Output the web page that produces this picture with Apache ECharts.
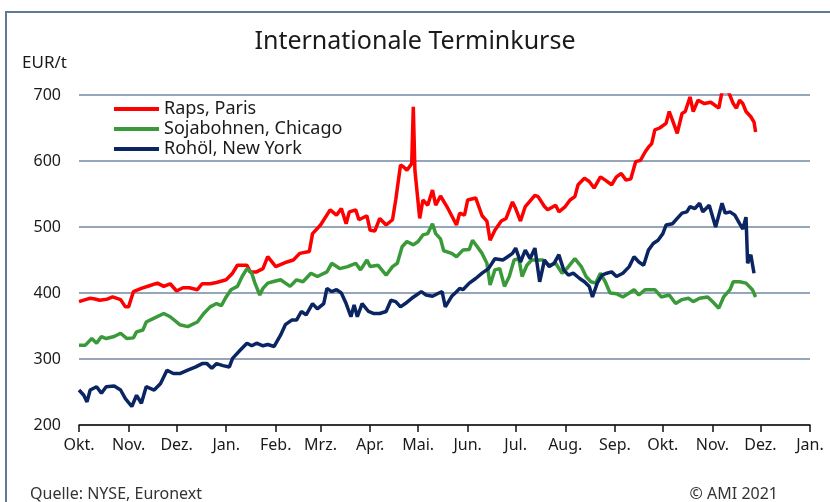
<!DOCTYPE html>
<html>
<head>
<meta charset="utf-8">
<script src="https://cdn.jsdelivr.net/npm/echarts@6/dist/echarts.min.js"></script>
<style>
  html, body { margin: 0; padding: 0; background: #fff; }
  #chart { width: 830px; height: 502px; }
</style>
</head>
<body>
<div id="chart"></div>
<script>
  // month labels (German)
  var monthNames = ['Jan.', 'Feb.', 'Mrz.', 'Apr.', 'Mai.', 'Jun.', 'Jul.', 'Aug.', 'Sep.', 'Okt.', 'Nov.', 'Dez.']
  var yTicks = [200, 300, 400, 500, 600, 700]

  // days since 1 Oct 2020, values in EUR/t
  var rapsDays = [
    0, 4, 7, 10, 13, 16, 18, 21, 26, 29,
    31, 34, 39, 44, 49, 53, 57, 61, 65, 69,
    74, 77, 82, 86, 92, 96, 99, 105, 107, 111,
    115, 118, 123, 130, 134, 138, 144, 146, 151, 157,
    161, 164, 167, 169, 173, 175, 180, 182, 185, 188,
    192, 196, 198, 201, 203, 205, 208, 209, 210, 213,
    215, 218, 221, 223, 226, 230, 236, 238, 241, 243,
    248, 252, 255, 257, 260, 264, 267, 271, 273, 276,
    279, 285, 287, 291, 293, 298, 300, 304, 307, 310,
    312, 316, 319, 322, 326, 329, 333, 336, 339, 342,
    345, 348, 351, 354, 356, 358, 360, 363, 367, 369,
    371, 374, 377, 379, 382, 384, 387, 391, 395, 400,
    402, 406, 409, 411, 413, 415, 417, 420, 422, 423
  ]
  var rapsVals = [
    387, 390, 392, 391, 389, 390, 391, 394, 390, 379,
    379, 402, 407, 411, 415, 410, 414, 403, 408, 408,
    405, 414, 414, 416, 420, 430, 442, 442, 432, 432,
    437, 455, 440, 447, 450, 460, 463, 490, 503, 526,
    518, 528, 505, 523, 526, 511, 517, 495, 494, 513,
    503, 511, 541, 594, 591, 586, 596, 682, 586, 513,
    541, 533, 556, 533, 547, 531, 503, 521, 518, 541,
    544, 517, 509, 480, 495, 509, 513, 538, 528, 509,
    531, 548, 546, 531, 526, 533, 523, 531, 541, 546,
    564, 574, 569, 559, 576, 571, 564, 576, 581, 571,
    573, 599, 601, 614, 621, 626, 647, 650, 657, 675,
    662, 642, 672, 675, 697, 675, 692, 687, 689, 680,
    705, 705, 687, 680, 692, 687, 675, 667, 659, 644
  ]

  var sojaDays = [
    0, 4, 8, 11, 14, 17, 22, 26, 30, 34,
    36, 40, 42, 47, 53, 57, 63, 68, 74, 78,
    82, 86, 89, 92, 95, 99, 102, 105, 108, 110,
    113, 115, 118, 121, 126, 132, 136, 140, 145, 149,
    155, 158, 163, 168, 173, 176, 180, 182, 187, 192,
    196, 199, 202, 205, 209, 212, 215, 218, 221, 223,
    226, 228, 233, 236, 240, 244, 246, 249, 252, 255,
    257, 260, 263, 266, 269, 272, 275, 277, 280, 283,
    290, 294, 298, 302, 305, 310, 314, 317, 320, 323,
    326, 329, 332, 336, 340, 344, 347, 350, 354, 360,
    364, 369, 373, 377, 381, 384, 388, 393, 396, 400,
    403, 407, 409, 413, 417, 421, 423
  ]
  var sojaVals = [
    321, 321, 331, 324, 334, 331, 334, 339, 331, 332,
    341, 344, 356, 362, 369, 364, 352, 349, 356, 369,
    379, 384, 381, 394, 405, 410, 425, 437, 430, 415,
    397, 407, 415, 417, 420, 410, 420, 417, 430, 425,
    432, 445, 437, 440, 445, 435, 450, 440, 442, 427,
    440, 445, 470, 478, 473, 478, 488, 490, 505, 490,
    482, 464, 460, 455, 465, 466, 480, 470, 460, 445,
    412, 435, 437, 410, 425, 450, 452, 425, 442, 450,
    450, 442, 445, 430, 437, 452, 440, 425, 417, 415,
    430, 417, 400, 399, 394, 400, 405, 397, 405, 405,
    394, 397, 384, 390, 392, 387, 392, 394, 387, 377,
    394, 405, 417, 417, 415, 405, 394
  ]

  var oelDays = [
    0, 3, 5, 7, 11, 14, 17, 22, 26, 29,
    33, 36, 39, 42, 47, 51, 55, 59, 63, 68,
    73, 77, 80, 83, 86, 90, 94, 96, 101, 105,
    108, 111, 115, 118, 122, 126, 129, 133, 136, 139,
    142, 146, 149, 153, 155, 158, 161, 164, 167, 170,
    172, 174, 177, 181, 184, 188, 192, 195, 198, 201,
    204, 208, 211, 214, 217, 221, 225, 227, 229, 233,
    236, 238, 240, 244, 248, 252, 256, 260, 265, 268,
    271, 273, 276, 279, 282, 285, 288, 291, 294, 297,
    300, 303, 306, 309, 313, 316, 319, 321, 324, 327,
    330, 333, 336, 340, 344, 347, 350, 353, 356, 359,
    362, 365, 367, 371, 374, 377, 380, 382, 385, 388,
    390, 394, 398, 400, 402, 404, 407, 410, 413, 415,
    417, 418, 420, 422
  ]
  var oelVals = [
    253, 245, 235, 253, 258, 248, 258, 259, 253, 240,
    228, 245, 233, 258, 253, 263, 283, 278, 278, 283,
    288, 293, 293, 286, 293, 290, 288, 301, 314, 324,
    320, 324, 320, 322, 319, 336, 352, 359, 359, 372,
    367, 384, 376, 384, 407, 402, 405, 400, 384, 364,
    382, 364, 384, 372, 369, 369, 372, 389, 387, 379,
    384, 392, 397, 402, 397, 395, 400, 402, 379, 395,
    402, 407, 405, 415, 422, 430, 437, 452, 450, 455,
    460, 468, 447, 465, 452, 468, 417, 450, 440, 445,
    458, 435, 427, 430, 422, 417, 410, 394, 415, 427,
    430, 432, 425, 430, 440, 455, 447, 442, 465, 475,
    480, 490, 503, 505, 513, 521, 523, 531, 528, 536,
    523, 533, 500, 518, 536, 521, 523, 518, 505, 497,
    515, 445, 458, 430
  ]

  var fontFam = '"Noto Sans", "Open Sans", sans-serif'

  function toTime(d) {
    return new Date(2020, 9, 1 + d).getTime()
  }
  function pairs(days, vals) {
    return days.map(function (d, i) { return [toTime(d), vals[i]] })
  }

  var chart = echarts.init(document.getElementById('chart'))
  var option = {
    animation: false,
    title: {
      text: 'Internationale Terminkurse',
      left: 'center',
      top: 24,
      textStyle: { fontFamily: fontFam, fontSize: 25, fontWeight: 'normal', color: '#1a1a1a' }
    },
    graphic: [
      {
        type: 'rect',
        shape: { x: 6, y: 12, width: 860, height: 520 },
        style: { fill: 'none', stroke: '#5f7a98', lineWidth: 2 },
        silent: true
      },
      {
        type: 'text',
        left: 22, top: 55,
        style: { text: 'EUR/t', fontFamily: fontFam, fontSize: 17, fill: '#1a1a1a' }
      },
      {
        type: 'text',
        left: 30, top: 486,
        style: { text: 'Quelle: NYSE, Euronext', fontFamily: fontFam, fontSize: 16, fill: '#333' }
      },
      {
        type: 'text',
        right: 52, top: 486,
        style: { text: '\u00a9 AMI 2021', fontFamily: fontFam, fontSize: 16, fill: '#333' }
      }
    ],
    legend: {
      orient: 'vertical',
      left: 109,
      top: 95,
      itemGap: 2,
      itemWidth: 45,
      itemHeight: 4,
      icon: 'rect',
      textStyle: { fontFamily: fontFam, fontSize: 18, color: '#1a1a1a' },
      data: ['Raps, Paris', 'Sojabohnen, Chicago', 'Rohöl, New York']
    },
    grid: { left: 79, right: 20, top: 95, bottom: 77 },
    xAxis: {
      type: 'time',
      min: toTime(0),
      max: new Date(2022, 0, 1).getTime(),
      splitNumber: 15,
      minInterval: 28 * 86400000,
      maxInterval: 31 * 86400000,
      axisLine: { onZero: false, lineStyle: { color: '#111', width: 1.5 } },
      axisTick: { show: true, length: 7, lineStyle: { color: '#111', width: 1.5 } },
      minorTick: { show: false },
      splitLine: { show: false },
      axisLabel: {
        interval: 0,
        hideOverlap: false,
        showMinLabel: true,
        showMaxLabel: true,
        margin: 12,
        fontFamily: fontFam,
        fontSize: 16,
        color: '#1a1a1a',
        formatter: function (val) {
          return monthNames[new Date(val).getMonth()]
        }
      }
    },
    yAxis: {
      type: 'value',
      min: yTicks[0],
      max: yTicks[yTicks.length - 1],
      interval: 100,
      axisLine: { show: false },
      axisTick: { show: false },
      splitLine: { lineStyle: { color: '#7389a3', width: 1.5 } },
      axisLabel: { margin: 18, fontFamily: fontFam, fontSize: 16, color: '#1a1a1a' }
    },
    series: [
      {
        name: 'Raps, Paris', type: 'line', symbol: 'none',
        data: pairs(rapsDays, rapsVals),
        itemStyle: { color: '#ff0000' },
        lineStyle: { color: '#ff0000', width: 3.5 }
      },
      {
        name: 'Sojabohnen, Chicago', type: 'line', symbol: 'none',
        data: pairs(sojaDays, sojaVals),
        itemStyle: { color: '#3a9a3a' },
        lineStyle: { color: '#3a9a3a', width: 3.5 }
      },
      {
        name: 'Rohöl, New York', type: 'line', symbol: 'none',
        data: pairs(oelDays, oelVals),
        itemStyle: { color: '#0b2562' },
        lineStyle: { color: '#0b2562', width: 3.5 }
      }
    ]
  }
  chart.setOption(option)
</script>
</body>
</html>
